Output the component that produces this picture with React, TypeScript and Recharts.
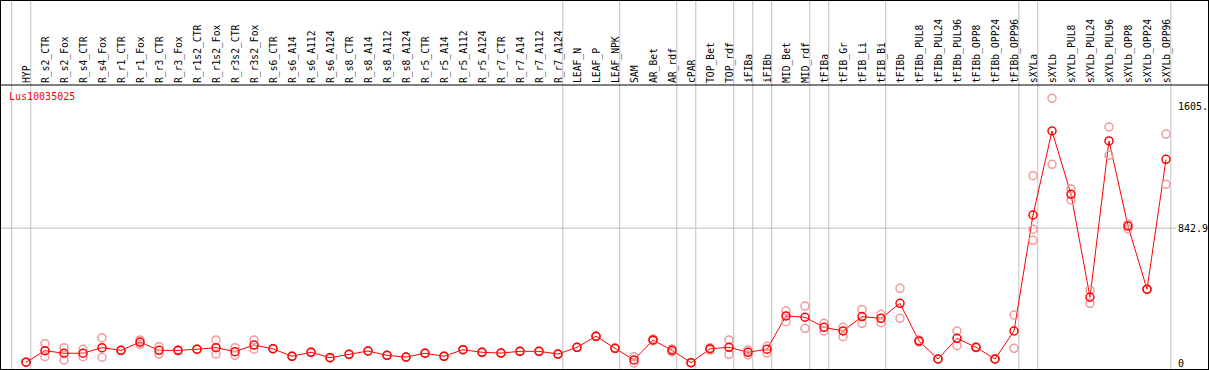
import { ComposedChart, Line, XAxis, YAxis, ReferenceLine } from "recharts";

const title = "Lus10035025";

const categories = [
  "HYP", "R_s2_CTR", "R_s2_Fox", "R_s4_CTR", "R_s4_Fox", "R_r1_CTR", "R_r1_Fox", "R_r3_CTR",
  "R_r3_Fox", "R_r1s2_CTR", "R_r1s2_Fox", "R_r3s2_CTR", "R_r3s2_Fox", "R_s6_CTR", "R_s6_A14",
  "R_s6_A112", "R_s6_A124", "R_s8_CTR", "R_s8_A14", "R_s8_A112", "R_s8_A124", "R_r5_CTR",
  "R_r5_A14", "R_r5_A112", "R_r5_A124", "R_r7_CTR", "R_r7_A14", "R_r7_A112", "R_r7_A124",
  "LEAF_N", "LEAF_P", "LEAF_NPK", "SAM", "AR_Bet", "AR_rdf", "cPAR", "TOP_Bet", "TOP_rdf",
  "iFIBa", "iFIBb", "MID_Bet", "MID_rdf", "tFIBa", "tFIB_Gr", "tFIB_Li", "tFIB_Bi", "tFIBb",
  "tFIBb_PUL8", "tFIBb_PUL24", "tFIBb_PUL96", "tFIBb_OPP8", "tFIBb_OPP24", "tFIBb_OPP96",
  "sXYLa", "sXYLb", "sXYLb_PUL8", "sXYLb_PUL24", "sXYLb_PUL96", "sXYLb_OPP8", "sXYLb_OPP24",
  "sXYLb_OPP96",
];

const means = [
  5, 77, 61, 61, 96, 79, 131, 79, 79, 86, 96, 71, 112, 89, 42, 67, 33, 54, 75, 48, 37, 61, 42,
  83, 67, 62, 73, 73, 56, 98, 167, 92, 19, 144, 79, 2, 89, 98, 67, 86, 294, 286, 223, 200, 290,
  279, 373, 137, 25, 154, 98, 25, 200, 925, 1450, 1054, 411, 1388, 856, 461, 1273,
];

const rep1 = [
  5, 121, 96, 86, 158, 80, 144, 102, 82, 88, 144, 96, 144, 90, 43, 68, 34, 55, 76, 49, 38, 62, 43,
  84, 68, 63, 74, 74, 57, 99, 168, 93, 39, 150, 88, 3, 96, 144, 81, 104, 325, 356, 248, 223, 335,
  304, 467, 144, 26, 200, 100, 26, 300, 1171, 1654, 1088, 456, 1475, 869, 464, 1431,
];

const rep2 = [
  5, 39, 19, 39, 36, 78, 117, 56, 76, 84, 56, 48, 86, 88, 41, 66, 32, 53, 74, 47, 36, 60, 41,
  82, 66, 61, 72, 72, 55, 97, 166, 91, 0, 138, 69, 1, 81, 54, 50, 62, 258, 217, 200, 164, 248,
  252, 279, 131, 24, 108, 96, 24, 92, 836, 1242, 1019, 373, 1298, 838, 458, 1117,
];

const rep3: (number | null)[] = categories.map((c) => (c === "sXYLa" ? 767 : null));

// a grey rule is drawn after each of these category indices
const separatorsAfter = [-1, 0, 28, 31, 34, 35, 37, 38, 39, 41, 42, 45, 52, 53, 60];

const yTicks = [0, 842.9, 1605];
const yTickLabels = ["0", "842.9", "1605."];
const gridValue = 842.9;

const W = 1207;
const H = 368;
const HEADER_H = 84;
const X_MIN = -25 / 19;
const X_MAX = (W - 25) / 19;
const Y_MIN = -37.5;
const Y_MAX = 1737.5;
const Y_TOP = Y_MAX + ((Y_MAX - Y_MIN) / (H - HEADER_H)) * HEADER_H;

const FONT = "DejaVu Sans Mono";
const RED = "#ff0000";
const PINK = "#f09a9a";
const GREY = "#c0c0c0";

const data = categories.map((name, i) => ({
  idx: i,
  name,
  mean: means[i],
  rep1: rep1[i],
  rep2: rep2[i],
  rep3: rep3[i],
}));

function HeaderTick({ x, y, payload }: any) {
  return (
    <text
      x={x}
      y={y}
      transform={`rotate(-90 ${x} ${y})`}
      textAnchor="start"
      dominantBaseline="central"
      fontSize={9.7}
      fontFamily={FONT}
      fill="#000"
    >
      {categories[payload.value]}
    </text>
  );
}

function ValueTick({ x, y, payload }: any) {
  const i = yTicks.indexOf(payload.value);
  return (
    <text x={x - 30} y={y} textAnchor="start" dominantBaseline="central" fontSize={10} fontFamily={FONT} fill="#000">
      {yTickLabels[i]}
    </text>
  );
}

export default function App() {
  return (
    <div
      style={{
        position: "absolute",
        left: 0,
        top: 0,
        width: W + 2,
        height: H + 2,
        boxSizing: "border-box",
        border: "1px solid #000",
        background: "#fff",
      }}
    >
      <ComposedChart width={W} height={H} data={data} margin={{ top: 0, right: 0, bottom: 0, left: 0 }}>
        <XAxis
          xAxisId="x"
          dataKey="idx"
          type="number"
          orientation="top"
          domain={[X_MIN, X_MAX]}
          allowDataOverflow
          ticks={categories.map((_, i) => i)}
          interval={0}
          height={HEADER_H}
          tickSize={0}
          tickMargin={2}
          tickLine={false}
          axisLine={{ stroke: "#000" }}
          tick={<HeaderTick />}
        />
        <YAxis
          yAxisId="y"
          type="number"
          orientation="right"
          mirror
          domain={[Y_MIN, Y_MAX]}
          allowDataOverflow
          ticks={yTicks}
          interval={0}
          tickSize={0}
          tickMargin={0}
          tickLine={false}
          axisLine={false}
          tick={<ValueTick />}
        />
        {separatorsAfter.map((k) => (
          <ReferenceLine
            key={k}
            xAxisId="x"
            yAxisId="y"
            ifOverflow="visible"
            segment={[
              { x: k + 0.25, y: Y_MIN },
              { x: k + 0.25, y: Y_TOP },
            ]}
            stroke={GREY}
          />
        ))}
        <ReferenceLine
          xAxisId="x"
          yAxisId="y"
          ifOverflow="visible"
          segment={[
            { x: X_MIN, y: gridValue },
            { x: 60.55, y: gridValue },
          ]}
          stroke={GREY}
        />
        {["rep1", "rep2", "rep3"].map((key) => (
          <Line
            key={key}
            xAxisId="x"
            yAxisId="y"
            dataKey={key}
            stroke="none"
            dot={{ r: 4, stroke: PINK, strokeWidth: 1.5, fill: "none" }}
            activeDot={false}
            isAnimationActive={false}
          />
        ))}
        <Line
          xAxisId="x"
          yAxisId="y"
          type="linear"
          dataKey="mean"
          stroke={RED}
          strokeWidth={1}
          dot={{ r: 4, stroke: RED, strokeWidth: 1.5, fill: "none" }}
          activeDot={false}
          isAnimationActive={false}
        />
      </ComposedChart>
      <div
        style={{
          position: "absolute",
          left: 8,
          top: 90,
          fontFamily: FONT,
          fontSize: 10,
          lineHeight: "12px",
          color: RED,
        }}
      >
        {title}
      </div>
    </div>
  );
}
